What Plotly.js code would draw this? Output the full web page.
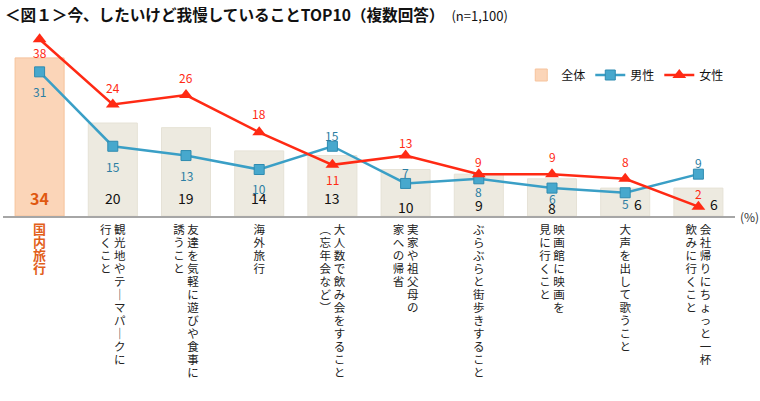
<!DOCTYPE html>
<html><head><meta charset="utf-8">
<script src="https://cdn.plot.ly/plotly-3.0.1.min.js"></script>
<style>body{margin:0;background:#fff}#chart{width:760px;height:401px}</style>
</head><body><div id="chart"></div>
<script>
// ---- data ----
const categories = [
  "国内旅行",
  "観光地やテーマパークに行くこと",
  "友達を気軽に遊びや食事に誘うこと",
  "海外旅行",
  "大人数で飲み会をすること（忘年会など）",
  "実家や祖父母の家への帰省",
  "ぶらぶらと街歩きすること",
  "映画館に映画を見に行くこと",
  "大声を出して歌うこと",
  "会社帰りにちょっと一杯飲みに行くこと"
];
// tick label columns, right column first (vertical writing)
const labelColumns = [
  ["国内旅行"],
  ["観光地やテーマパークに", "行くこと"],
  ["友達を気軽に遊びや食事に", "誘うこと"],
  ["海外旅行"],
  ["大人数で飲み会をすること", "（忘年会など）"],
  ["実家や祖父母の", "家への帰省"],
  ["ぶらぶらと街歩きすること"],
  ["映画館に映画を", "見に行くこと"],
  ["大声を出して歌うこと"],
  ["会社帰りにちょっと一杯", "飲みに行くこと"]
];
const total  = [34, 20, 19, 14, 13, 10, 9, 8, 6, 6];
const male   = [31, 15, 13, 10, 15, 7, 8, 6, 5, 9];
const female = [38, 24, 26, 18, 11, 13, 9, 9, 8, 2];
const seriesNames = ["全体", "男性", "女性"];

// ---- label placement (style only) ----
const totalShiftY = [18, 18, 18, 18, 18, 9, 11, 8, 12, 12];
const totalShiftX = [0, 0, 0, 0, 0, 0, 0, 0, 13, 16];
const maleShiftY   = [-20, -20, -20, -19, 11, 11, -13, -10, -11, 12];
const femaleShiftY = [-13, 17, 18, 19, -15, 13, 13, 18, 17, 13];

const VERT = {"ー": "｜", "（": "︵", "）": "︶"};
function verticalLabel(cols, size, color, bold) {
  const chars = cols.map(c => [...c].map(ch => VERT[ch] || ch));
  const n = Math.max(...chars.map(c => c.length));
  const lines = [];
  for (let i = 0; i < n; i++) {
    const row = chars.slice().reverse().map(c => c[i] || "\u3000").join("\u00a0");
    let s = `<span style="font-size:${size}px;color:${color}">${row}</span>`;
    if (bold) s = `<b>${s}</b>`;
    lines.push(s);
  }
  return lines.join("<br>");
}
const tickText = labelColumns.map((cols, i) =>
  i === 0 ? verticalLabel(cols, 13, "#e2601a", true) : verticalLabel(cols, 11.5, "#222", false));

const FONT = "Noto Sans CJK JP, Noto Sans, sans-serif";
const maleColor = "#3a9fc6", femaleColor = "#ff2a14";

const traces = [
  {
    type: "bar", name: seriesNames[0], x: categories, y: total, width: 0.67,
    marker: {
      color: total.map((v, i) => i === 0 ? "#fbd5b8" : "#edeae0"),
      line: {color: total.map((v, i) => i === 0 ? "#f6c39c" : "#e6e2d6"), width: 1}
    },
    hoverinfo: "skip"
  },
  {
    type: "scatter", mode: "lines+markers", name: seriesNames[1], x: categories, y: male,
    line: {color: maleColor, width: 2.5},
    marker: {symbol: "square", size: 10, color: "#47a8cd", line: {color: "#2f8bb0", width: 1}}
  },
  {
    type: "scatter", mode: "lines+markers", name: seriesNames[2], x: categories, y: female,
    line: {color: femaleColor, width: 2.5},
    marker: {symbol: "triangle-up", size: 12, color: femaleColor}
  }
];

const annotations = [];
total.forEach((v, i) => annotations.push({
  x: categories[i], y: 0, text: i === 0 ? `<b>${v}</b>` : String(v), showarrow: false,
  xanchor: "center", yanchor: "middle", yshift: totalShiftY[i], xshift: totalShiftX[i],
  font: {family: FONT, size: i === 0 ? 16 : 14, color: i === 0 ? "#e0580f" : "#111"}
}));
male.forEach((v, i) => annotations.push({
  x: categories[i], y: v, text: String(v), showarrow: false,
  xanchor: "center", yanchor: "middle", yshift: maleShiftY[i],
  font: {family: FONT, size: 12, color: "#2c7ea3"}
}));
female.forEach((v, i) => annotations.push({
  x: categories[i], y: v, text: String(v), showarrow: false,
  xanchor: "center", yanchor: "middle", yshift: femaleShiftY[i],
  font: {family: FONT, size: 12, color: femaleColor}
}));
annotations.push({
  xref: "paper", yref: "paper", x: 1, y: 0, xanchor: "left", yanchor: "middle", xshift: 3,
  text: "(%)", showarrow: false, font: {family: FONT, size: 12, color: "#333"}
});

const layout = {
  width: 760, height: 401,
  margin: {l: 3, r: 25, t: 30, b: 185, pad: 0},
  paper_bgcolor: "#fff", plot_bgcolor: "#fff",
  font: {family: FONT, color: "#222"},
  title: {
    text: "<b>＜図１＞今、したいけど我慢していることTOP10（複数回答）</b>\u00a0\u00a0<span style=\"font-size:13px\">(n=1,100)</span>",
    x: 5 / 760, xref: "container", xanchor: "left",
    y: 1 - 16 / 401, yref: "container", yanchor: "middle",
    font: {family: FONT, size: 15.6, color: "#111"}
  },
  xaxis: {
    type: "category", range: [-0.5, 9.5], tickvals: categories, ticktext: tickText,
    tickangle: 0, ticks: "", showgrid: false, zeroline: false,
    showline: true, linecolor: "#a6a6a6", linewidth: 2,
    tickfont: {family: FONT, size: 10, color: "#222"}, automargin: false,
    ticklabelstandoff: 4
  },
  yaxis: {range: [0, 40], visible: false, fixedrange: true},
  bargap: 0.33,
  showlegend: true,
  legend: {
    orientation: "h", x: 0.708, xanchor: "left", y: 0.758, yanchor: "middle",
    bgcolor: "rgba(0,0,0,0)", font: {family: FONT, size: 12, color: "#111"},
    itemwidth: 30, traceorder: "normal"
  },
  annotations: annotations
};

Plotly.newPlot("chart", traces, layout, {displayModeBar: false, staticPlot: true});
</script>
</body></html>
